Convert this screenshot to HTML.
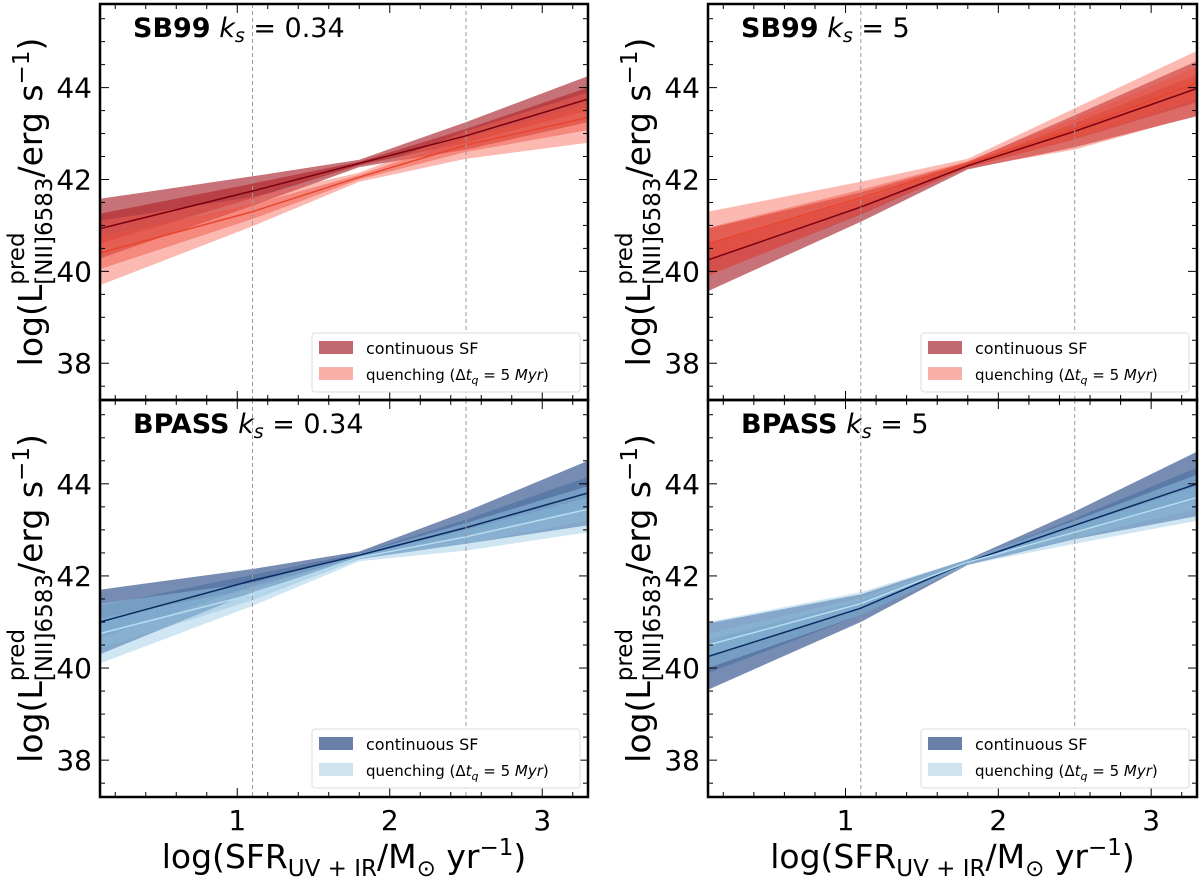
<!DOCTYPE html>
<html><head><meta charset="utf-8">
<style>
html,body{margin:0;padding:0;background:#fff;}
svg{display:block;font-family:"DejaVu Sans","Liberation Sans",sans-serif;}
</style></head>
<body>
<svg id="fig" width="1200" height="878" viewBox="0 0 1200 878" xmlns="http://www.w3.org/2000/svg"></svg>
<script>
// ---- data ----
const sampleX = [0.1, 1.1, 1.8, 2.5, 3.3];
const xTicks = [1, 2, 3];
const yTicks = [38, 40, 42, 44];
const vLines = [1.1, 2.5];
const panelTitles = [["SB99","0.34"],["SB99","5"],["BPASS","0.34"],["BPASS","5"]];
// continuous SF: centre and outer half-width
const contCenter = [
  [40.93, 41.75, 42.35, 42.95, 43.75],
  [40.25, 41.4, 42.3, 43.05, 43.98],
  [41.0, 41.9, 42.45, 43.05, 43.8],
  [40.25, 41.3, 42.3, 43.1, 44.0]
];
const contHW = [
  [0.65, 0.32, 0.08, 0.3, 0.5],
  [0.68, 0.32, 0.08, 0.35, 0.6],
  [0.7, 0.25, 0.08, 0.35, 0.7],
  [0.72, 0.3, 0.06, 0.3, 0.7]
];
const quenCenter = [
  [40.4, 41.3, 42.05, 42.75, 43.35],
  [40.6, 41.6, 42.35, 43.1, 44.1],
  [40.75, 41.6, 42.4, 42.85, 43.45],
  [40.5, 41.4, 42.3, 42.95, 43.7]
];
const quenHW = [
  [0.7, 0.32, 0.1, 0.3, 0.55],
  [0.7, 0.35, 0.1, 0.45, 0.7],
  [0.65, 0.25, 0.08, 0.3, 0.5],
  [0.5, 0.25, 0.06, 0.25, 0.5]
];
const innerFrac = 0.5;

// ---- layout ----
const NS = "http://www.w3.org/2000/svg";
const svg = document.getElementById("fig");
const panels = [
  {x0:100,x1:588,y0:4,y1:400},
  {x0:708,x1:1197,y0:4,y1:400},
  {x0:100,x1:588,y0:400,y1:797},
  {x0:708,x1:1197,y0:400,y1:797}
];
const XMIN=0.1, XMAX=3.3, YMIN=37.2, YMAX=45.82;
const pal = [
  {co:"rgba(160,20,30,0.6)", ci:"rgba(175,25,30,0.55)", cl:"#7a0010", qo:"rgba(246,100,85,0.45)", qi:"rgba(240,80,60,0.45)", ql:"#e8452f", lc:"#c26970", lq:"#f8b0a8"},
  {co:"rgba(35,70,130,0.62)", ci:"rgba(60,100,155,0.45)", cl:"#0b2a62", qo:"rgba(150,200,228,0.45)", qi:"rgba(140,190,220,0.4)", ql:"#b8dcef", lc:"#6a80a8", lq:"#cfe3ef"}
];
function mk(tag, attrs, parent){const e=document.createElementNS(NS,tag);for(const k in attrs)e.setAttribute(k,attrs[k]);(parent||svg).appendChild(e);return e;}

panels.forEach((p,i)=>{
  const sx=v=>p.x0+(v-XMIN)/(XMAX-XMIN)*(p.x1-p.x0);
  const sy=v=>p.y1-(v-YMIN)/(YMAX-YMIN)*(p.y1-p.y0);
  const c = pal[i<2?0:1];
  const g = mk("g",{});
  
  
  const clipId="clip"+i;
  const cp=mk("clipPath",{id:clipId},g); mk("rect",{x:p.x0,y:p.y0,width:p.x1-p.x0,height:p.y1-p.y0},cp);
  const dg=mk("g",{"clip-path":"url(#"+clipId+")"},g);
  function band(cen,hw,frac,fill,name){
    let d="";
    sampleX.forEach((x,k)=>{d+=(k?"L":"M")+sx(x).toFixed(1)+","+sy(cen[k]+hw[k]*frac).toFixed(1);});
    for(let k=sampleX.length-1;k>=0;k--) d+="L"+sx(sampleX[k]).toFixed(1)+","+sy(cen[k]-hw[k]*frac).toFixed(1);
    const e=mk("path",{d:d+"Z",fill:fill},dg);
    
    
  }
  function line(cen,col,name){
    const pts=sampleX.map((x,k)=>sx(x).toFixed(1)+","+sy(cen[k]).toFixed(1)).join(" ");
    const e=mk("polyline",{points:pts,fill:"none",stroke:col,"stroke-width":1.5},dg);
    
    
  }
  band(contCenter[i],contHW[i],1,c.co,"continuous-outer-band");
  band(contCenter[i],contHW[i],innerFrac,c.ci,"continuous-inner-band");
  band(quenCenter[i],quenHW[i],1,c.qo,"quenching-outer-band");
  band(quenCenter[i],quenHW[i],innerFrac,c.qi,"quenching-inner-band");
  line(contCenter[i],c.cl,"continuous-line");
  line(quenCenter[i],c.ql,"quenching-line");
  vLines.forEach(v=>{
    const e=mk("line",{x1:sx(v),x2:sx(v),y1:p.y0,y2:p.y1,stroke:"#999","stroke-width":1,"stroke-dasharray":"4,3"},g);
    
    
  });
  // ticks
  for(let v=0.2; v<=3.3; v+=0.2){
    const major=Math.abs(v-Math.round(v))<1e-6;const L=major?9:5;const X=sx(v);
    mk("line",{x1:X,x2:X,y1:p.y1,y2:p.y1-L,stroke:"#000","stroke-width":1},g);
    mk("line",{x1:X,x2:X,y1:p.y0,y2:p.y0+L,stroke:"#000","stroke-width":1},g);
  }
  for(let v=37.5; v<=45.6; v+=0.5){
    const major=Math.abs(v/2-Math.round(v/2))<1e-6;const L=major?9:5;const Y=sy(v);
    mk("line",{x1:p.x0,x2:p.x0+L,y1:Y,y2:Y,stroke:"#000","stroke-width":1},g);
    mk("line",{x1:p.x1,x2:p.x1-L,y1:Y,y2:Y,stroke:"#000","stroke-width":1},g);
  }
  yTicks.forEach(v=>{
    const t=mk("text",{x:p.x0-8,y:sy(v)+10,"text-anchor":"end","font-size":28},g);t.textContent=v;
    
    
  });
  if(i>=2){
    xTicks.forEach(v=>{
      const t=mk("text",{x:sx(v),y:830,"text-anchor":"middle","font-size":28},g);t.textContent=v;
      
      
    });
    const xt=mk("text",{x:(p.x0+p.x1)/2,y:868,"text-anchor":"middle","font-size":33},g);
    xt.innerHTML='log(SFR<tspan font-size="23" dy="8">UV + IR</tspan><tspan dy="-8">/M</tspan><tspan font-size="23" dy="8">⊙</tspan><tspan dy="-8"> yr</tspan><tspan font-size="23" dy="-13">−1</tspan><tspan dy="13">)</tspan>';
    
    
  }
  // y title (built piece by piece in a rotated group)
  const yg=mk("g",{},g);
  
  
  const inner=mk("g",{},yg);
  const a=mk("text",{x:0,y:0,"font-size":33},inner); a.textContent="log(L";
  const la=a.getComputedTextLength();
  const sb=mk("text",{x:la,y:10,"font-size":23},inner); sb.textContent="[NII]6583";
  const sp=mk("text",{x:la,y:-18,"font-size":23},inner); sp.textContent="pred";
  const ls=Math.max(sb.getComputedTextLength(),sp.getComputedTextLength());
  const r=mk("text",{x:la+ls,y:0,"font-size":33},inner); r.innerHTML='/erg s<tspan font-size="23" dy="-13">−1</tspan><tspan dy="13">)</tspan>';
  const total=la+ls+r.getComputedTextLength();
  inner.setAttribute("transform","translate("+(-total/2)+",0)");
  yg.setAttribute("transform","translate("+(p.x0-58)+","+((p.y0+p.y1)/2)+") rotate(-90)");
  // title
  const tt=mk("text",{x:p.x0+33,y:p.y0+33,"font-size":27},g);
  tt.innerHTML='<tspan font-weight="bold">'+panelTitles[i][0]+'</tspan> <tspan font-style="italic">k</tspan><tspan font-style="italic" font-size="19" dy="5">s</tspan><tspan dy="-5"> = '+panelTitles[i][1]+'</tspan>';
  
  
  // legend
  const lx=p.x1-276, ly=p.y0+329;
  const lg=mk("g",{},g);
  
  
  mk("rect",{x:lx,y:ly,width:268,height:59,rx:3,fill:"#fff",stroke:"#ddd","stroke-width":1},lg);
  mk("rect",{x:lx+7,y:ly+8,width:34,height:13,fill:c.lc},lg);
  mk("rect",{x:lx+7,y:ly+34,width:34,height:13,fill:c.lq},lg);
  const l1=mk("text",{x:lx+54,y:ly+21,"font-size":16},lg);l1.textContent="continuous SF";
  
  
  const l2=mk("text",{x:lx+54,y:ly+47,"font-size":15},lg);
  l2.innerHTML='quenching (Δ<tspan font-style="italic">t</tspan><tspan font-style="italic" font-size="11" dy="4">q</tspan><tspan dy="-4"> = 5 </tspan><tspan font-style="italic">Myr</tspan>)';
  
  
  mk("rect",{x:p.x0,y:p.y0,width:p.x1-p.x0,height:p.y1-p.y0,fill:"none",stroke:"#000","stroke-width":2.5},g);
});
</script>
</body></html>
